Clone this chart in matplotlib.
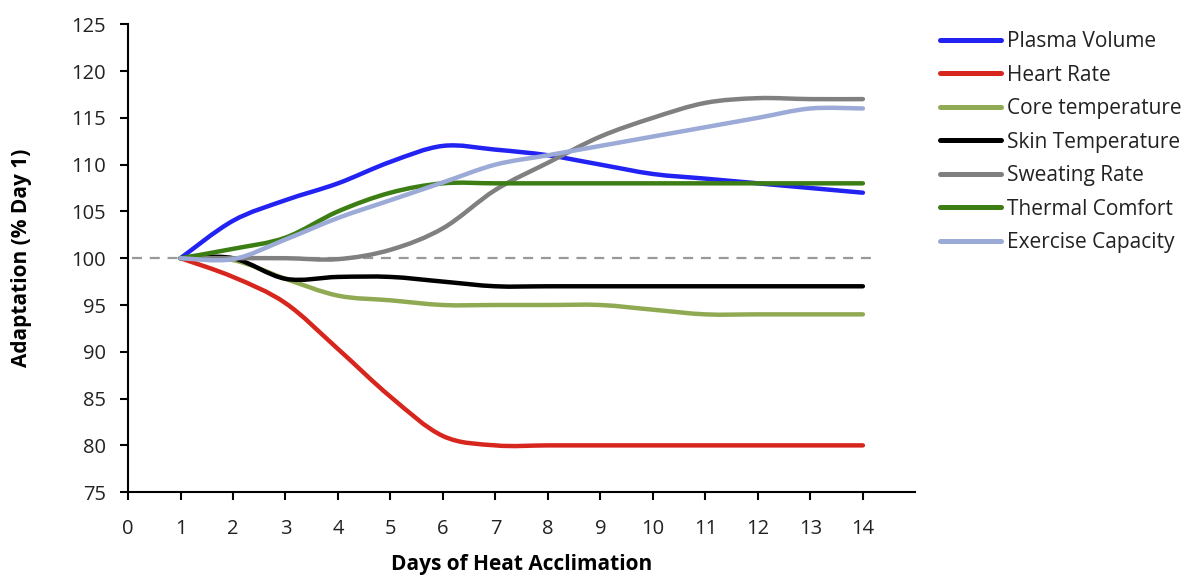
"""
Heat acclimation adaptation curves
"""
import matplotlib
matplotlib.use("Agg")
import matplotlib.pyplot as plt
from matplotlib.path import Path
from matplotlib.patches import PathPatch
from matplotlib.lines import Line2D

days = list(range(1, 15))

plasma_volume = [100, 104, 106.2, 108, 110.3, 112, 111.6, 111, 110, 109, 108.5, 108, 107.5, 107]
heart_rate = [100, 98, 95.2, 90.3, 85.2, 81, 80, 80, 80, 80, 80, 80, 80, 80]
core_temp = [100, 99.8, 97.8, 96, 95.5, 95, 95, 95, 95, 94.5, 94, 94, 94, 94]
skin_temp = [100, 100, 97.8, 98, 98, 97.5, 97, 97, 97, 97, 97, 97, 97, 97]
sweating_rate = [100, 100, 100, 99.9, 100.9, 103.2, 107.3, 110.2, 113, 115, 116.6, 117.1, 117, 117]
thermal_comfort = [100, 101, 102.2, 105, 107, 108, 108, 108, 108, 108, 108, 108, 108, 108]
exercise_capacity = [100, 99.9, 102, 104.3, 106.2, 108.1, 110, 111, 112, 113, 114, 115, 116, 116]

series_names = ["Plasma Volume", "Heart Rate", "Core temperature", "Skin Temperature",
                "Sweating Rate", "Thermal Comfort", "Exercise Capacity"]
series_values = [plasma_volume, heart_rate, core_temp, skin_temp,
                 sweating_rate, thermal_comfort, exercise_capacity]
series_colors = ["#2222F2", "#D7261E", "#8FAA52", "#000000",
                 "#808080", "#3C7E14", "#9BAAD6"]

x_ticks = list(range(0, 15))
y_ticks = list(range(75, 126, 5))


def smooth_path(xs, ys):
    """
    Build a smoothed (Excel-like) Bezier path through the data points.
    """
    pts = list(zip(xs, ys))
    verts = [pts[0]]
    codes = [Path.MOVETO]
    n = len(pts)
    for i in range(n - 1):
        p0 = pts[i - 1] if i > 0 else pts[i]
        p1 = pts[i]
        p2 = pts[i + 1]
        p3 = pts[i + 2] if i + 2 < n else pts[i + 1]
        c1 = (p1[0] + (p2[0] - p0[0]) / 6, p1[1] + (p2[1] - p0[1]) / 6)
        c2 = (p2[0] - (p3[0] - p1[0]) / 6, p2[1] - (p3[1] - p1[1]) / 6)
        verts += [c1, c2, p2]
        codes += [Path.CURVE4] * 3
    return Path(verts, codes)


plt.rcParams['font.family'] = ['Open Sans', 'DejaVu Sans']

fig = plt.figure(figsize=(11.93, 5.77), dpi=100)
ax = fig.add_axes([0.1073, 0.147, 0.66, 0.811])

ax.axhline(100, xmin=0.005, xmax=14.2 / 15, color="#999999", lw=1.6,
           dashes=(4.5, 3.5), zorder=1)

handles = []
for name, vals, col in zip(series_names, series_values, series_colors):
    patch = PathPatch(smooth_path(days, vals), fill=False, edgecolor=col,
                      lw=3.2, capstyle='round', joinstyle='round', zorder=3)
    ax.add_patch(patch)
    handles.append(Line2D([0], [0], color=col, lw=3.6, solid_capstyle='round'))

ax.set_xlim(0, 15)
ax.set_ylim(75, 125)
ax.set_xticks(x_ticks)
ax.set_yticks(y_ticks)
ax.tick_params(axis='both', labelsize=14.5, direction='out', length=6, width=1.5,
               colors='black', labelcolor='#222222')
ax.tick_params(axis='x', pad=13)
ax.tick_params(axis='y', pad=10)
for side in ['top', 'right']:
    ax.spines[side].set_visible(False)
for side in ['left', 'bottom']:
    ax.spines[side].set_linewidth(1.5)

ax.set_xlabel("Days of Heat Acclimation", fontsize=15, fontweight='bold')
ax.set_ylabel("Adaptation (% Day 1)", fontsize=15, fontweight='bold')
ax.xaxis.set_label_coords(0.5, -0.132)
ax.yaxis.set_label_coords(-0.122, 0.5)

fig.legend(handles, series_names, loc='upper left', bbox_to_anchor=(0.788, 0.946),
           frameon=False, fontsize=15, handlelength=2.9, handletextpad=0.3,
           labelspacing=0.6, borderpad=0, borderaxespad=0, labelcolor='#222222')

fig.savefig("out.png", dpi=100)
